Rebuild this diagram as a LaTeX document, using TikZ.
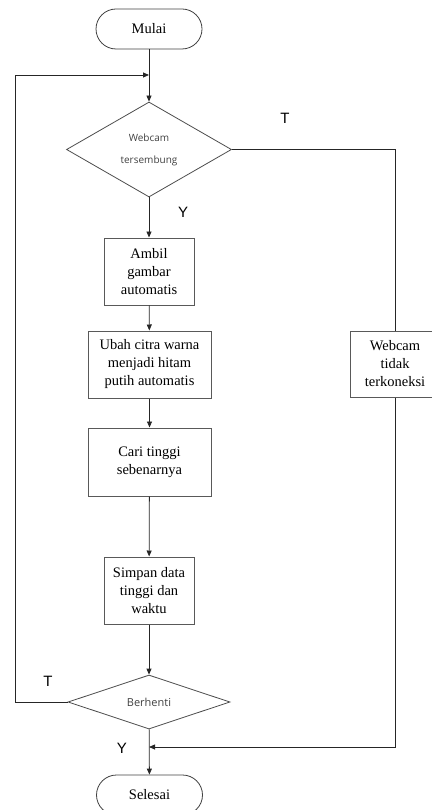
\documentclass[tikz,border=0pt]{standalone}
\usepackage{fontspec}
\setmainfont{Liberation Serif}
\newfontfamily\labelfont{Liberation Sans}
\newfontfamily\diamondfont{Open Sans}
\usetikzlibrary{shapes.geometric,arrows.meta}

\begin{document}
\begin{tikzpicture}[x=1pt,y=-1pt,
           terminal_style/.style={rectangle,rounded corners=20pt,draw=black!75,line width=0.8pt,
               minimum width=106pt,minimum height=40pt,font=\fontsize{14.5}{18}\selectfont},
           process_style/.style={rectangle,draw=black!65,line width=1pt,align=center,inner sep=0pt,
               minimum height=67pt,font=\fontsize{14.5}{18}\selectfont},
           decision_style/.style={diamond,draw=black!70,line width=0.8pt,inner sep=0pt,align=center,
               font=\diamondfont\fontsize{10}{22}\selectfont\color{black!75}},
           label_style/.style={font=\labelfont\fontsize{15}{18}\selectfont},
           edge_style/.style={draw=black!85,line width=0.8pt},
           arrow_style/.style={edge_style,-{Triangle[length=6pt,width=5pt]}}]
            \useasboundingbox (0,0) rectangle (431,810);
            \node[terminal_style] (mulai) at (149, 29)  {Mulai};
            \node[decision_style,minimum width=165pt,minimum height=95pt] (webcam) at (149, 149.5)  {Webcam\\tersembung};
            \node[process_style,minimum width=90pt] (ambil) at (149, 271.5)  {Ambil\\gambar\\automatis};
            \node[process_style,minimum width=123pt] (ubah) at (149.5, 364.5)  {Ubah citra warna\\menjadi hitam\\putih automatis};
            \node[process_style,minimum width=123pt,minimum height=68pt] (cari) at (149.5, 462)  {Cari tinggi\\sebenarnya};
            \node[process_style,minimum width=90pt] (simpan) at (149, 590.5)  {Simpan data\\tinggi dan\\waktu};
            \node[decision_style,minimum width=162pt,minimum height=54pt,font=\diamondfont\fontsize{11}{14}\selectfont\color{black!75}] (berhenti) at (149, 702)  {Berhenti};
            \node[terminal_style] (selesai) at (149.5, 795)  {Selesai};
            \node[process_style,minimum width=90pt,minimum height=66pt] (tidak) at (395, 364)  {Webcam\\tidak\\terkoneksi};
            \coordinate (join_top) at (149, 75);
            \coordinate (join_bot) at (149, 747);
            \coordinate (corner_tl) at (15, 75);
            \coordinate (corner_bl) at (15, 702);
            \coordinate (corner_tr) at (395, 149.5);
            \coordinate (corner_br) at (395, 747);
            \node[label_style] (t_top) at (285, 118)  {T};
            \node[label_style] (y_top) at (183, 212)  {Y};
            \node[label_style] (t_bot) at (48, 681)  {T};
            \node[label_style] (y_bot) at (122, 748)  {Y};
            \draw[arrow_style]  (mulai) -- (webcam);
            \draw[arrow_style]  (webcam) -- (ambil);
            \draw[arrow_style]  (ambil) -- (ubah);
            \draw[arrow_style]  (ubah) -- (cari);
            \draw[arrow_style]  (cari) -- (simpan);
            \draw[arrow_style]  (simpan) -- (berhenti);
            \draw[arrow_style]  (berhenti) -- (selesai);
            \draw[edge_style]  (webcam.east) -- (corner_tr) -- (tidak);
            \draw[arrow_style]  (tidak) -- (corner_br) -- (join_bot);
            \draw[arrow_style]  (berhenti.west) -- (corner_bl) -- (corner_tl) -- (join_top);
        \end{tikzpicture}
\end{document}
